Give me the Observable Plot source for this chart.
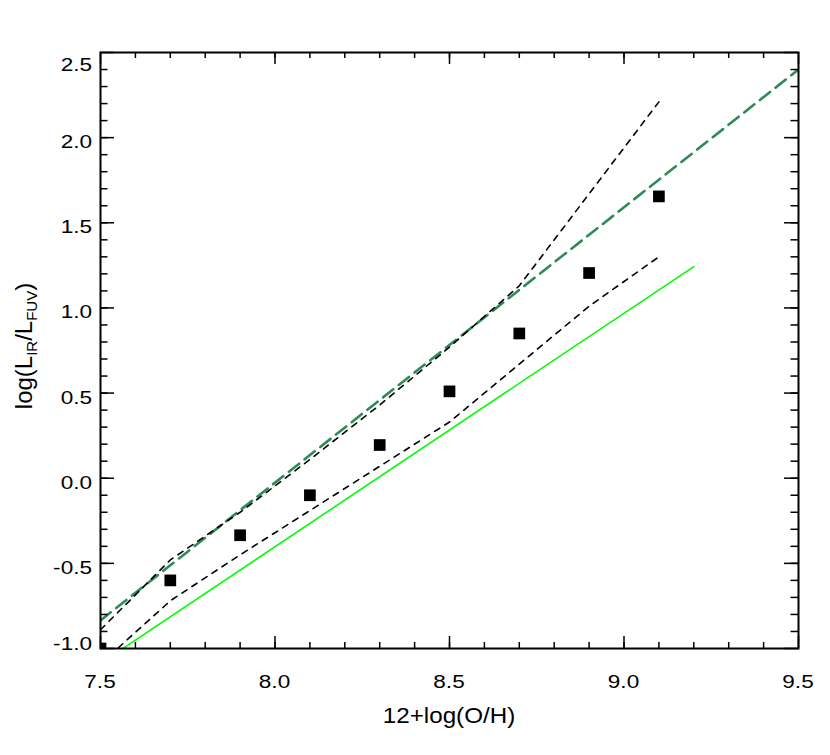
<!DOCTYPE html>
<html><head><meta charset="utf-8">
<script src="https://cdn.jsdelivr.net/npm/d3@7"></script>
<script src="https://cdn.jsdelivr.net/npm/@observablehq/plot@0.6"></script>
<style>body{margin:0;background:#fff}</style>
</head><body><div id="chart"></div>
<script>
// ---- data ----
const oh = [7.5, 7.7, 7.9, 8.1, 8.3, 8.5, 8.7, 8.9, 9.1];
const obsRatio = [-1.0, -0.60, -0.335, -0.10, 0.195, 0.51, 0.85, 1.205, 1.655];
const upperRatio = [-0.89, -0.48, -0.20, 0.11, 0.43, 0.77, 1.13, 1.67, 2.21];
const lowerRatio = [-1.09, -0.72, -0.45, -0.19, 0.07, 0.33, 0.67, 1.01, 1.30];
const fitX = [7.5, 9.5];
const fitY = [-0.835, 2.40];
const relX = [7.5, 9.2];
const relY = [-1.088, 1.243];
const xTickLabels = [7.5, 8.0, 8.5, 9.0, 9.5];
const yTickLabels = [-1.0, -0.5, 0.0, 0.5, 1.0, 1.5, 2.0, 2.5];
const xMinorTicks = d3.range(76, 95).map(d => d / 10);
const yMinorTicks = d3.range(-9, 25).map(d => d / 10);
const xLabel = "12+log(O/H)";

// ---- layout ----
const W = 830, H = 755, mL = 100, mR = 32, mT = 52, mB = 107;
const fw = W - mL - mR, fh = H - mT - mB;

const pts = oh.map((x, i) => ({x, y: obsRatio[i]}));
const up = oh.map((x, i) => ({x, y: upperRatio[i]}));
const lo = oh.map((x, i) => ({x, y: lowerRatio[i]}));
const fit = fitX.map((x, i) => ({x, y: fitY[i]}));
const rel = relX.map((x, i) => ({x, y: relY[i]}));
const fmt = d => d.toFixed(1);

const plot = Plot.plot({
  width: W, height: H,
  marginLeft: mL, marginRight: mR, marginTop: mT, marginBottom: mB,
  style: {fontFamily: "'Liberation Sans', Arial, sans-serif", background: "white", color: "black"},
  x: {domain: [7.5, 9.5], label: null, axis: null},
  y: {domain: [-1.0, 2.5], label: null, axis: null},
  marks: [
    Plot.line(rel, {x: "x", y: "y", stroke: "#00ff00", strokeWidth: 1.6, clip: true}),
    Plot.line(fit, {x: "x", y: "y", stroke: "#2e8b57", strokeWidth: 2.6, strokeDasharray: "13,7", clip: true}),
    Plot.line(up, {x: "x", y: "y", stroke: "black", strokeWidth: 1.6, strokeDasharray: "6,6", clip: true}),
    Plot.line(lo, {x: "x", y: "y", stroke: "black", strokeWidth: 1.6, strokeDasharray: "6,6", clip: true}),
    Plot.dot(pts, {x: "x", y: "y", symbol: "square", r: 6.6, fill: "black", stroke: "none", clip: true}),
    // inward ticks, bottom & top
    Plot.ruleX(xTickLabels, {insetTop: fh - 12, stroke: "black", strokeWidth: 1.5}),
    Plot.ruleX(xMinorTicks, {insetTop: fh - 6, stroke: "black", strokeWidth: 1.5}),
    Plot.ruleX(xTickLabels, {insetBottom: fh - 12, stroke: "black", strokeWidth: 1.5}),
    Plot.ruleX(xMinorTicks, {insetBottom: fh - 6, stroke: "black", strokeWidth: 1.5}),
    // inward ticks, left & right
    Plot.ruleY(yTickLabels, {insetRight: fw - 14, stroke: "black", strokeWidth: 1.5}),
    Plot.ruleY(yMinorTicks, {insetRight: fw - 7.5, stroke: "black", strokeWidth: 1.5}),
    Plot.ruleY(yTickLabels, {insetLeft: fw - 14, stroke: "black", strokeWidth: 1.5}),
    Plot.ruleY(yMinorTicks, {insetLeft: fw - 7.5, stroke: "black", strokeWidth: 1.5}),
    Plot.frame({stroke: "black", strokeWidth: 2})
  ]
});

const sx = plot.scale("x"), sy = plot.scale("y");
const svg = d3.select(plot);
const ff = "'Liberation Sans', Arial, sans-serif";

// x tick labels (glyphs widened like the original)
svg.append("g").selectAll("text").data(xTickLabels).join("text")
  .attr("transform", d => `translate(${sx.apply(d)},688) scale(1.22,1)`)
  .attr("text-anchor", "middle")
  .attr("font-family", ff).attr("font-size", 18.5).attr("fill", "black")
  .text(fmt);

// y tick labels; end labels are nudged inward as in the original
const yShift = d => d === yTickLabels[yTickLabels.length - 1] ? 12.7 : d === yTickLabels[0] ? -4.7 : 4.5;
svg.append("g").selectAll("text").data(yTickLabels).join("text")
  .attr("transform", d => `translate(92,${sy.apply(d) + yShift(d) + 6.5}) scale(1.22,1)`)
  .attr("text-anchor", "end")
  .attr("font-family", ff).attr("font-size", 18.5).attr("fill", "black")
  .text(fmt);

// x axis title
svg.append("text")
  .attr("transform", `translate(${mL + fw / 2},723) scale(1.1,1)`)
  .attr("text-anchor", "middle")
  .attr("font-family", ff).attr("font-size", 22).attr("fill", "black")
  .text(xLabel);

// y axis title with subscripts
const yl = svg.append("text")
  .attr("transform", `translate(32,346) rotate(-90)`)
  .attr("text-anchor", "middle")
  .attr("font-family", ff).attr("font-size", 24).attr("fill", "black");
yl.append("tspan").text("log(L");
yl.append("tspan").attr("font-size", 15).attr("dy", 5).text("IR");
yl.append("tspan").attr("dy", -5).text("/L");
yl.append("tspan").attr("font-size", 15).attr("dy", 5).text("FUV");
yl.append("tspan").attr("dy", -5).text(")");

document.getElementById("chart").appendChild(plot);
</script>
</body></html>
